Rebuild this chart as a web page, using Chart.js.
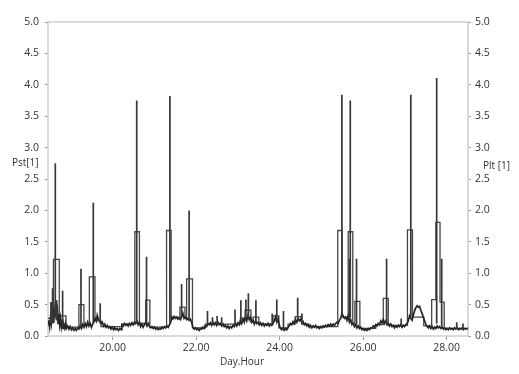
<!DOCTYPE html>
<html><head><meta charset="utf-8">
<script src="https://cdn.jsdelivr.net/npm/chart.js@4/dist/chart.umd.min.js"></script>
<style>html,body{margin:0;padding:0;background:#fff;}#wrap{width:519px;height:374px;}</style>
</head><body><div id="wrap"><canvas id="c" width="519" height="374"></canvas></div>
<script>
const xTitle = 'Day.Hour';
const leftTitle = 'Pst[1]';
const rightTitle = 'Plt [1]';
const xTickValues = [20, 22, 24, 26, 28];
const yTickValues = [0, 0.5, 1, 1.5, 2, 2.5, 3, 3.5, 4, 4.5, 5];

// Pst[1] short-term flicker, baseline readings [day, value]
const pstReadings = [
[18.45,0.18],[18.47,0.25],[18.49,0.15],[18.51,0.30],[18.53,0.20],[18.55,0.35],[18.57,0.22],[18.59,0.45],[18.61,0.30],[18.63,0.55],[18.65,0.25],[18.67,0.50],[18.69,0.20],[18.71,0.35],[18.73,0.18],[18.75,0.28],[18.77,0.14],[18.79,0.22],[18.81,0.12],[18.83,0.18],[18.85,0.13],[18.87,0.20],[18.89,0.12],
[18.92,0.16],[18.95,0.11],[18.98,0.15],[19.01,0.10],[19.04,0.13],[19.07,0.09],[19.10,0.12],[19.13,0.09],[19.16,0.13],[19.19,0.11],
[19.22,0.16],[19.25,0.12],[19.28,0.18],[19.31,0.14],[19.34,0.20],[19.37,0.15],[19.40,0.22],[19.43,0.16],[19.46,0.20],[19.49,0.14],[19.52,0.19],[19.55,0.22],[19.58,0.28],[19.61,0.24],
[19.63,0.33],[19.66,0.26],[19.69,0.24],[19.72,0.20],[19.75,0.22],[19.78,0.16],[19.81,0.19],[19.84,0.14],[19.87,0.17],[19.90,0.13],[19.93,0.15],[19.96,0.11],[19.99,0.14],[20.02,0.10],[20.05,0.13],[20.08,0.10],[20.11,0.12],[20.14,0.09],[20.17,0.12],[20.20,0.10],
[20.22,0.18],[20.25,0.16],[20.28,0.20],[20.31,0.17],[20.34,0.19],[20.37,0.16],[20.40,0.20],[20.43,0.17],[20.46,0.21],[20.49,0.18],[20.52,0.22],[20.55,0.20],[20.58,0.24],[20.61,0.18],[20.64,0.22],[20.67,0.15],[20.70,0.19],[20.73,0.14],[20.76,0.18],[20.79,0.22],[20.82,0.16],[20.85,0.20],[20.88,0.15],
[20.91,0.13],[20.94,0.15],[20.97,0.12],[21.00,0.14],[21.03,0.11],[21.06,0.13],[21.09,0.10],[21.12,0.12],[21.15,0.11],[21.18,0.14],[21.21,0.12],[21.24,0.15],[21.27,0.13],[21.30,0.16],[21.33,0.14],[21.36,0.18],[21.39,0.22],
[21.41,0.30],[21.44,0.27],[21.47,0.31],[21.50,0.28],[21.53,0.30],[21.56,0.27],[21.59,0.29],[21.62,0.26],[21.65,0.30],[21.68,0.36],[21.71,0.28],[21.74,0.30],[21.77,0.26],[21.80,0.28],[21.83,0.25],[21.86,0.27],[21.89,0.22],
[21.92,0.14],[21.95,0.11],[21.98,0.13],[22.01,0.10],[22.04,0.12],[22.07,0.09],[22.10,0.12],[22.13,0.11],[22.16,0.14],[22.19,0.12],
[22.22,0.17],[22.25,0.15],[22.28,0.20],[22.31,0.18],[22.34,0.21],[22.37,0.17],[22.40,0.22],[22.43,0.18],[22.46,0.21],[22.49,0.17],[22.52,0.22],[22.55,0.18],[22.58,0.20],
[22.61,0.16],[22.64,0.19],[22.67,0.15],[22.70,0.17],[22.73,0.13],[22.76,0.16],[22.79,0.12],[22.82,0.15],[22.85,0.13],[22.88,0.17],[22.91,0.15],
[22.94,0.20],[22.97,0.16],[23.00,0.21],[23.03,0.18],[23.06,0.25],[23.09,0.20],[23.12,0.27],[23.15,0.22],[23.18,0.30],[23.21,0.24],[23.24,0.33],[23.27,0.26],[23.30,0.30],[23.33,0.22],
[23.36,0.25],[23.39,0.19],[23.42,0.24],[23.45,0.20],[23.48,0.22],[23.51,0.18],[23.54,0.21],[23.57,0.17],[23.60,0.20],[23.63,0.16],[23.66,0.19],[23.69,0.17],[23.72,0.20],[23.75,0.16],[23.78,0.19],[23.81,0.17],
[23.84,0.20],[23.87,0.24],[23.90,0.30],[23.93,0.22],[23.96,0.27],[23.99,0.17],[24.02,0.12],[24.05,0.10],[24.08,0.13],[24.11,0.09],[24.14,0.12],[24.17,0.10],[24.20,0.14],
[24.23,0.16],[24.26,0.20],[24.29,0.18],[24.32,0.23],[24.35,0.20],[24.38,0.26],[24.41,0.22],[24.44,0.28],[24.47,0.24],[24.50,0.27],[24.53,0.21],[24.56,0.23],[24.59,0.18],
[24.62,0.20],[24.65,0.16],[24.68,0.18],[24.71,0.14],[24.74,0.17],[24.77,0.13],[24.80,0.16],[24.83,0.14],[24.86,0.17],[24.89,0.13],[24.92,0.15],[24.95,0.12],[24.98,0.15],[25.01,0.13],[25.04,0.16],[25.07,0.14],[25.10,0.17],[25.13,0.15],[25.16,0.18],[25.19,0.16],[25.22,0.19],[25.25,0.16],[25.28,0.19],[25.31,0.17],[25.34,0.20],
[25.37,0.22],[25.40,0.20],[25.43,0.25],[25.46,0.28],[25.49,0.36],[25.52,0.32],[25.55,0.28],[25.58,0.30],[25.61,0.25],[25.64,0.32],[25.67,0.22],[25.70,0.26],[25.73,0.18],[25.76,0.20],[25.79,0.15],
[25.82,0.18],[25.85,0.13],[25.88,0.16],[25.91,0.12],[25.94,0.14],[25.97,0.10],[26.00,0.12],[26.03,0.09],[26.06,0.11],[26.09,0.09],[26.12,0.12],[26.15,0.10],[26.18,0.13],
[26.21,0.12],[26.24,0.16],[26.27,0.14],[26.30,0.18],[26.33,0.16],[26.36,0.20],[26.39,0.18],[26.42,0.24],[26.45,0.21],[26.48,0.26],[26.51,0.20],[26.54,0.24],[26.57,0.18],[26.60,0.20],
[26.63,0.16],[26.66,0.19],[26.69,0.15],[26.72,0.17],[26.75,0.13],[26.78,0.16],[26.81,0.14],[26.84,0.17],[26.87,0.15],[26.90,0.18],[26.93,0.14],[26.96,0.17],[26.99,0.15],[27.02,0.18],
[27.05,0.20],[27.08,0.24],[27.11,0.32],[27.14,0.28],[27.17,0.25],[27.20,0.33],[27.23,0.40],[27.26,0.45],[27.29,0.48],[27.32,0.46],[27.35,0.47],[27.38,0.41],[27.41,0.36],[27.44,0.30],[27.47,0.24],[27.50,0.19],[27.53,0.15],
[27.56,0.13],[27.59,0.16],[27.62,0.12],[27.65,0.15],[27.68,0.11],[27.71,0.14],[27.74,0.12],[27.77,0.16],[27.80,0.13],[27.83,0.15],[27.86,0.12],[27.89,0.14],[27.92,0.11],[27.95,0.13],[27.98,0.10],[28.01,0.12],[28.04,0.10],[28.07,0.13],[28.10,0.11],[28.13,0.12],[28.16,0.10],[28.19,0.13],[28.22,0.11],[28.25,0.13],[28.28,0.10],[28.31,0.12],[28.34,0.11],[28.37,0.13],[28.40,0.10],[28.43,0.12],[28.46,0.11],[28.49,0.12],[28.51,0.11]
];

// Pst[1] single-interval peaks [day, level before peak, peak value]
const pstPeaks = [
[18.52,0.20,0.54],[18.56,0.20,0.76],[18.625,0.30,2.75],[18.66,0.25,0.57],[18.80,0.15,0.72],
[19.24,0.15,1.07],[19.535,0.20,2.12],[19.70,0.20,0.52],
[20.575,0.20,3.75],[20.81,0.20,1.26],
[21.37,0.20,3.82],[21.65,0.30,0.83],[21.83,0.28,2.00],
[22.27,0.20,0.40],[22.39,0.20,0.30],[22.50,0.20,0.32],[22.61,0.20,0.30],[22.93,0.20,0.42],
[23.07,0.25,0.57],[23.19,0.30,0.58],[23.25,0.30,0.68],[23.43,0.20,0.57],[23.82,0.20,0.36],[23.93,0.25,0.58],
[24.09,0.12,0.40],[24.43,0.25,0.61],[24.53,0.20,0.36],
[25.49,0.30,3.84],[25.67,0.25,1.23],[25.69,0.30,3.75],[25.84,0.15,1.23],
[26.56,0.20,1.23],[26.91,0.15,0.28],
[27.14,0.30,3.84],[27.76,0.20,4.11],[27.88,0.15,1.23],
[28.24,0.12,0.22],[28.39,0.12,0.20]
];

// Plt[1] long-term flicker, step values [day, value held until next step]
const pltSteps = [
[18.45,0.28],[18.58,1.22],[18.72,0.32],[18.88,0.14],[19.19,0.50],[19.31,0.17],[19.44,0.94],[19.575,0.24],[19.72,0.15],
[20.22,0.19],[20.53,1.66],[20.64,0.20],[20.79,0.57],[20.89,0.14],[21.29,1.68],[21.40,0.30],[21.61,0.46],[21.73,0.30],[21.77,0.91],[21.91,0.13],
[22.22,0.19],[23.06,0.28],[23.17,0.41],[23.31,0.22],[23.36,0.30],[23.50,0.19],[23.84,0.32],[23.98,0.13],[24.20,0.19],[24.37,0.31],[24.53,0.19],[24.70,0.15],
[25.39,1.68],[25.49,0.30],[25.64,1.66],[25.75,0.20],[25.80,0.55],[25.92,0.12],[26.30,0.18],[26.48,0.60],[26.60,0.17],
[27.06,1.69],[27.18,0.30],[27.45,0.16],[27.64,0.58],[27.74,1.81],[27.84,0.54],[27.94,0.12],[28.51,0.12]
];

const pstData = pstReadings.map(r => ({x: r[0], y: r[1]}));
const peakData = [];
pstPeaks.forEach(p => { peakData.push({x: p[0], y: p[1]}, {x: p[0], y: p[2]}, {x: p[0], y: null}); });
const pltData = pltSteps.map(r => ({x: r[0], y: r[1]}));

const FONT = '"Open Sans", "Noto Sans", sans-serif';
const TXT = '#333333';

const framePlugin = {
  id: 'frame',
  beforeDatasetsDraw(chart) {
    const {ctx, chartArea: a} = chart;
    ctx.save();
    ctx.strokeStyle = '#cfcfcf';
    ctx.lineWidth = 1.5;
    ctx.strokeRect(a.left, a.top, a.right - a.left, a.bottom - a.top);
    ctx.restore();
  },
  afterDraw(chart) {
    const {ctx} = chart;
    ctx.save();
    ctx.fillStyle = TXT;
    ctx.font = '10px ' + FONT;
    ctx.textBaseline = 'middle';
    ctx.textAlign = 'left';
    ctx.fillText(leftTitle, 12, 163);
    ctx.fillText(rightTitle, 483, 166);
    ctx.textAlign = 'center';
    ctx.fillText(xTitle, 242, 362);
    ctx.restore();
  }
};

const yTicksSetter = s => { s.ticks = yTickValues.map(v => ({value: v})); };

new Chart(document.getElementById('c'), {
  type: 'line',
  data: {
    datasets: [
      {label: 'Pst[1] peaks', data: peakData, borderColor: '#383838', borderWidth: 1.7, pointRadius: 0, spanGaps: false, yAxisID: 'y', order: 0},
      {label: 'Pst[1]', data: pstData, borderColor: '#262626', borderWidth: 1.7, pointRadius: 0, tension: 0, yAxisID: 'y', order: 1},
      {label: 'Plt [1]', data: pltData, borderColor: '#474747', borderWidth: 1.3, pointRadius: 0, stepped: true, yAxisID: 'y2', order: 2}
    ]
  },
  options: {
    responsive: false,
    animation: false,
    devicePixelRatio: 1,
    layout: {padding: {top: 22, left: 0, right: 0, bottom: 0}},
    plugins: {legend: {display: false}, tooltip: {enabled: false}, title: {display: false}},
    scales: {
      x: {
        type: 'linear', min: 18.45, max: 28.51,
        afterBuildTicks: s => { s.ticks = xTickValues.map(v => ({value: v})); },
        afterFit: s => { s.height = 38; },
        grid: {display: true, drawOnChartArea: false, drawTicks: true, tickLength: 4, color: '#9a9a9a'},
        border: {display: false},
        ticks: {color: TXT, font: {family: FONT, size: 10.5}, padding: 2, maxRotation: 0, autoSkip: false,
                callback: v => Number(v).toFixed(2)}
      },
      y: {
        position: 'left', min: 0, max: 5,
        afterBuildTicks: yTicksSetter,
        afterFit: s => { s.width = 48; },
        grid: {display: true, drawOnChartArea: false, drawTicks: true, tickLength: 3, color: '#9a9a9a'},
        border: {display: false},
        ticks: {color: TXT, font: {family: FONT, size: 10.5}, padding: 6, autoSkip: false,
                callback: v => Number(v).toFixed(1)}
      },
      y2: {
        position: 'right', min: 0, max: 5,
        afterBuildTicks: yTicksSetter,
        afterFit: s => { s.width = 51; },
        grid: {display: true, drawOnChartArea: false, drawTicks: true, tickLength: 3, color: '#9a9a9a'},
        border: {display: false},
        ticks: {color: TXT, font: {family: FONT, size: 10.5}, padding: 4, autoSkip: false,
                callback: v => Number(v).toFixed(1)}
      }
    }
  },
  plugins: [framePlugin]
});
</script>
</body></html>
